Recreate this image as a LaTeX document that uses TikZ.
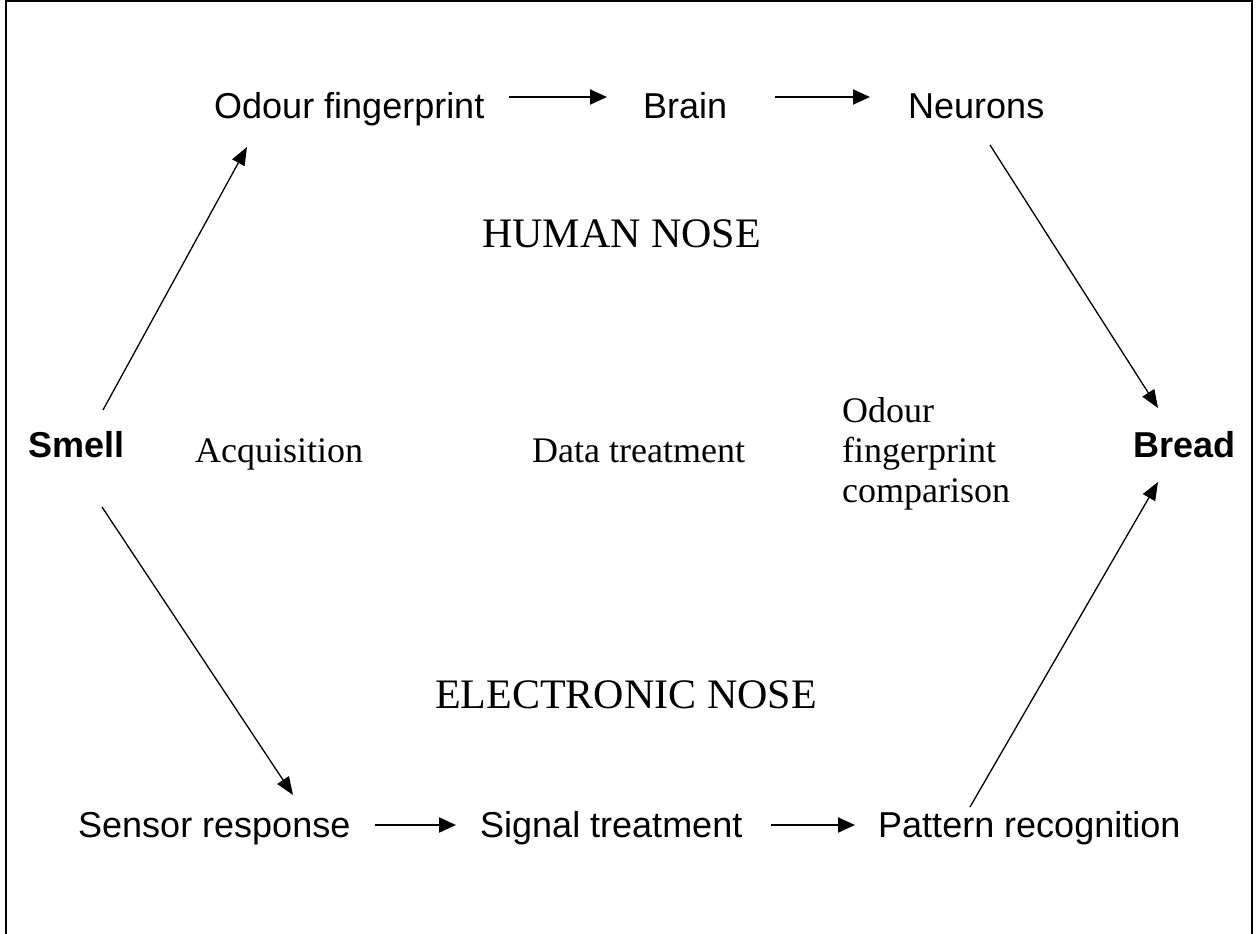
\documentclass[tikz,border=0pt]{standalone}
\usepackage{fontspec}
\setmainfont{Liberation Serif}
\setsansfont{Liberation Sans}
\usetikzlibrary{arrows.meta,calc}
\begin{document}
\begin{tikzpicture}[x=1pt,y=1pt,
  lbl/.style={font=\sffamily\fontsize{36}{40}\selectfont, inner sep=0pt, anchor=base west},
  blbl/.style={font=\sffamily\bfseries\fontsize{36}{40}\selectfont, inner sep=0pt, anchor=base west},
  tlbl/.style={font=\rmfamily\fontsize{36}{40}\selectfont, inner sep=0pt, anchor=base west},
  title/.style={font=\rmfamily\fontsize{42}{48}\selectfont, inner sep=0pt, anchor=base west},
  harrow/.style={line width=2pt, -{Triangle[length=17pt,width=15pt]}},
  darrow/.style={line width=1.3pt, -{Triangle[length=18pt,width=14pt]}},
]
\useasboundingbox (0,0) rectangle (1259,-934);
\draw[line width=1.6pt] (6,-934) -- (6,-1) -- (1252,-1) -- (1252,-934);

% top row (human nose)
\node[lbl] (odour) at (214,-118) {Odour fingerprint};
\node[lbl] (brain) at (643,-118) {Brain};
\node[lbl] (neurons) at (908,-118) {Neurons};

% middle row
\node[blbl] (smell) at (28,-457) {Smell};
\node[blbl] (bread) at (1133,-457) {Bread};
\node[tlbl] (acq) at (195,-462) {Acquisition};
\node[tlbl] (data) at (532,-462) {Data treatment};
\node[font=\rmfamily\fontsize{36}{40}\selectfont, inner sep=0pt, anchor=west, align=left] (comp) at (842,-454) {Odour\\fingerprint\\comparison};

% titles
\node[title] (human) at (482,-247) {HUMAN NOSE};
\node[title] (enose) at (435,-708) {ELECTRONIC NOSE};

% bottom row (electronic nose)
\node[lbl] (sensor) at (78,-837) {Sensor response};
\node[lbl] (signal) at (480,-837) {Signal treatment};
\node[lbl] (pattern) at (878,-837) {Pattern recognition};

% connectors
\draw[harrow] ($(odour.base east)+(24,21)$) -- ($(brain.base west)+(-36,21)$);
\draw[harrow] ($(brain.base east)+(48,21)$) -- ($(neurons.base west)+(-38,21)$);
\draw[harrow] ($(sensor.base east)+(24,12)$) -- ($(signal.base west)+(-24,12)$);
\draw[harrow] ($(signal.base east)+(28,12)$) -- ($(pattern.base west)+(-23,12)$);

\draw[darrow] ($(smell.base west)+(75,47)$) -- ($(odour.base west)+(33,-29)$);
\draw[darrow] ($(neurons.base west)+(82,-27)$) -- ($(bread.base west)+(25,49)$);
\draw[darrow] ($(smell.base west)+(74,-50)$) -- ($(sensor.base west)+(215,42)$);
\draw[darrow] ($(pattern.base west)+(92,30)$) -- ($(bread.base west)+(25,-25)$);
\end{tikzpicture}
\end{document}
